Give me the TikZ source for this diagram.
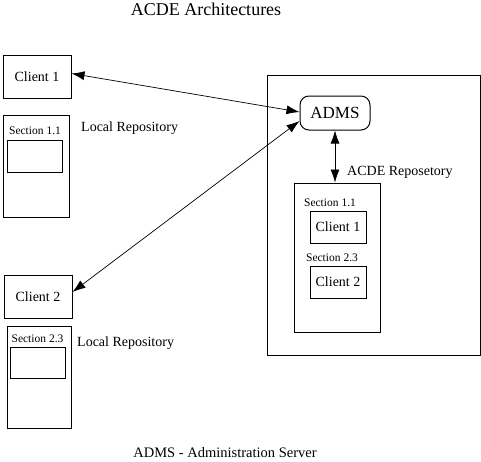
\documentclass[tikz,border=0pt]{standalone}
\usepackage{fontspec}
\setmainfont{Liberation Serif}
\usetikzlibrary{arrows.meta}
\tikzset{
  box/.style={draw, line width=1pt, inner sep=0pt, anchor=center},
  lbl/.style={inner sep=0pt, anchor=center},
  link/.style={line width=0.7pt, {Latex[length=13pt,width=9pt]}-{Latex[length=13pt,width=9pt]}},
}
\begin{document}
\begin{tikzpicture}[x=1pt,y=-1pt]
\useasboundingbox (0,0) rectangle (481,461);
% title
\node[lbl, font=\fontsize{18}{20}\selectfont] (title) at (206,9) {ACDE Architectures};
% left side
\node[box, minimum width=68pt, minimum height=43pt, font=\fontsize{14}{16}\selectfont] (c1) at (37,76.5) {Client 1};
\node[box, minimum width=66pt, minimum height=102pt] (r1) at (36,166) {};
\node[lbl, font=\fontsize{11.5}{12}\selectfont] (s1) at (35,131) {Section 1.1};
\node[box, minimum width=55pt, minimum height=32pt] (i1) at (34.5,156) {};
\node[lbl, anchor=west, font=\fontsize{14}{16}\selectfont] (lr1) at (81,128) {Local Repository};

\node[box, minimum width=68pt, minimum height=43pt, font=\fontsize{14}{16}\selectfont] (c2) at (38,296.5) {Client 2};
\node[box, minimum width=64pt, minimum height=102pt] (r2) at (39,377) {};
\node[lbl, font=\fontsize{11.5}{12}\selectfont] (s2) at (37.5,339) {Section 2.3};
\node[box, minimum width=55pt, minimum height=31pt] (i2) at (37.5,362.5) {};
\node[lbl, anchor=west, font=\fontsize{14}{16}\selectfont] (lr2) at (77,343) {Local Repository};

% right side
\node[box, minimum width=213pt, minimum height=280pt] (outer) at (373.5,215) {};
\node[box, rounded corners=9pt, minimum width=70pt, minimum height=34pt, font=\fontsize{17}{19}\selectfont] (adms) at (335,113) {ADMS};
\node[lbl, anchor=west, font=\fontsize{14}{16}\selectfont] (acde) at (347,172) {ACDE Reposetory};
\node[box, minimum width=86pt, minimum height=149pt] (rr) at (337,257.5) {};
\node[lbl, font=\fontsize{11.5}{12}\selectfont] (s3) at (330,203) {Section 1.1};
\node[box, minimum width=56pt, minimum height=32pt, font=\fontsize{14}{16}\selectfont] (cc1) at (338,227) {Client 1};
\node[lbl, font=\fontsize{11.5}{12}\selectfont] (s4) at (332,258) {Section 2.3};
\node[box, minimum width=56pt, minimum height=32pt, font=\fontsize{14}{16}\selectfont] (cc2) at (338,282) {Client 2};

% bottom caption
\node[lbl, font=\fontsize{14.5}{16}\selectfont] (cap) at (225,453) {ADMS - Administration Server};

% connectors
\draw[link] ([yshift=3pt]c1.east) -- ([yshift=1pt]adms.west);
\draw[link] ([yshift=4.5pt]c2.east) -- ([yshift=-8pt]adms.west);
\draw[link] (adms.south) -- (adms.south |- rr.north);
\end{tikzpicture}
\end{document}
